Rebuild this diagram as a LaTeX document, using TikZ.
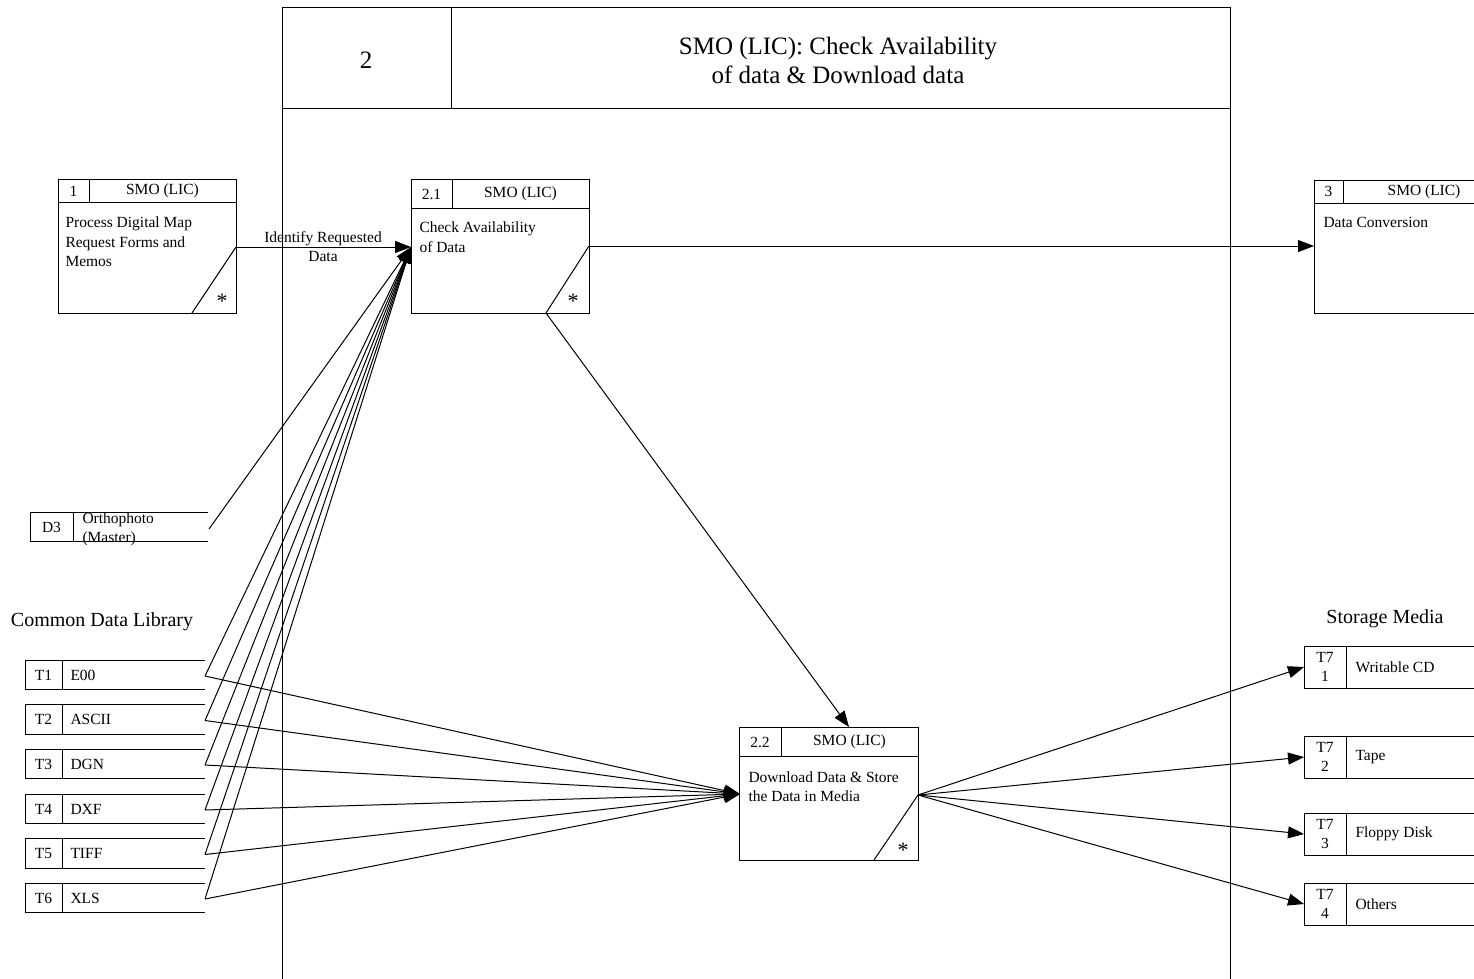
\documentclass[tikz,border=0pt]{standalone}
\usepackage{fontspec}
\setmainfont{Liberation Serif}
\usetikzlibrary{arrows.meta}
\begin{document}
\begin{tikzpicture}[x=1pt,y=-1pt,line width=1pt,
  txt/.style={inner sep=0pt,font=\fontsize{15.5}{19.5}\selectfont},
  body/.style={txt,anchor=north west,align=left},
  big/.style={inner sep=0pt,font=\fontsize{25}{29}\selectfont},
  lib/.style={inner sep=0pt,font=\fontsize{20}{24}\selectfont},
  star/.style={inner sep=0pt,font=\fontsize{22}{22}\selectfont},
  boxshape/.style={draw,anchor=north west,inner sep=0pt,minimum width=#1},
  arr/.style={-{Triangle[length=16pt,width=12pt]}}]
\useasboundingbox (0,0) rectangle (1474,979);
\fill[white] (0,0) rectangle (1474,979);

% ---------- outer frame ----------
\draw (282,979) -- (282,8) -- (1230,8) -- (1230,979);
\draw (282,109) -- (1230,109);
\draw (451,8) -- (451,109);
\node[big] (fnum) at (366,60) {2};
\node[big,align=center] (ftitle) at (838,60) {SMO (LIC): Check Availability\\of data \& Download data};

% ---------- process 1 ----------
\node[boxshape=178pt,minimum height=134pt] (p1) at (58,179) {};
\draw (58,202) -- (236,202);
\draw (89,179) -- (89,202);
\node[txt] (p1n) at (73.5,191) {1};
\node[txt] (p1h) at (162.5,191) {SMO (LIC)};
\node[body] (p1t) at (65,213.4) {\strut Process Digital Map\\Request Forms and\\Memos};
\draw (192,313) -- (236,247);
\coordinate (p1out) at (236,247);
\node[star] (p1s) at (222,301) {*};

% ---------- process 2.1 ----------
\node[boxshape=178pt,minimum height=134pt] (p21) at (411,179) {};
\draw (411,208) -- (589,208);
\draw (452,179) -- (452,208);
\node[txt] (p21n) at (431.5,194) {2.1};
\node[txt] (p21h) at (520.5,194) {SMO (LIC)};
\node[body] (p21t) at (419,218.4) {\strut Check Availability\\of Data};
\draw (546,313) -- (589,246);
\coordinate (p21in) at (411,247);
\coordinate (p21out) at (589,246);
\coordinate (p21dn) at (546,313);
\node[star] (p21s) at (573,301.5) {*};

% ---------- process 3 (cut off) ----------
\draw (1474,180) -- (1314,180) -- (1314,313) -- (1474,313);
\draw (1314,203) -- (1474,203);
\draw (1343,180) -- (1343,203);
\node[txt] (p3n) at (1328.5,191.5) {3};
\node[txt] (p3h) at (1424,191.5) {SMO (LIC)};
\node[body] (p3t) at (1323,213.4) {\strut Data Conversion};
\coordinate (p3in) at (1314,246);

% ---------- process 2.2 ----------
\node[boxshape=179pt,minimum height=133pt] (p22) at (739,727) {};
\draw (739,756) -- (918,756);
\draw (781,727) -- (781,756);
\node[txt] (p22n) at (760,742) {2.2};
\node[txt] (p22h) at (849.5,742) {SMO (LIC)};
\node[body] (p22t) at (748,768.3) {\strut Download Data \& Store\\the Data in Media};
\draw (874,860) -- (918,795);
\coordinate (p22in) at (740,794);
\coordinate (p22top) at (849,727);
\coordinate (p22out) at (918,795);
\node[star] (p22s) at (903,850) {*};

% ---------- D3 data store ----------
\draw (208,512) -- (30,512) -- (30,541) -- (208,541);
\draw (73,512) -- (73,541);
\node[txt] (d3n) at (51.5,527) {D3};
\node[body] (d3t) at (82,509) {\strut Orthophoto\\(Master)};
\coordinate (d3out) at (209,529);

% ---------- Common Data Library ----------
\node[lib] (cdl) at (102,622) {Common Data Library};
\foreach \i/\top/\lab in {1/660/E00,2/704.5/ASCII,3/749/DGN,4/794/DXF,5/838.5/TIFF,6/883/XLS}{
  \draw (205,\top) -- (25,\top) -- (25,\top+29.5) -- (205,\top+29.5);
  \draw (62,\top) -- (62,\top+29.5);
  \node[txt] (t\i n) at (43.5,\top+15) {T\i};
  \node[txt,anchor=west] (t\i t) at (70,\top+15) {\lab};
  \coordinate (t\i out) at (205,\top+16);
}

% ---------- Storage Media ----------
\node[lib] (stm) at (1385,619) {Storage Media};
\foreach \i/\top/\lab in {1/646/Writable CD,2/736/Tape,3/813/Floppy Disk,4/883/Others}{
  \draw (1474,\top) -- (1304,\top) -- (1304,\top+42) -- (1474,\top+42);
  \draw (1346,\top) -- (1346,\top+42);
  \node[txt,align=center] (m\i n) at (1325,\top+21) {T7\\\i};
  \node[txt,anchor=west] (m\i t) at (1355,\top+21) {\lab};
  \coordinate (m\i in) at (1304,\top+21);
}

% ---------- connectors ----------
\draw[arr] (p1out) -- (p21in);
\node[txt,align=center] (lid) at (323,246.5) {Identify Requested\\Data};
\draw[arr] (d3out) -- (p21in);
\foreach \i in {1,...,6}{
  \draw[arr] (t\i out) -- (p21in);
  \draw[arr] (t\i out) -- (p22in);
}
\draw[arr] (p21out) -- (p3in);
\draw[arr] (p21dn) -- (p22top);
\foreach \i in {1,...,4}{
  \draw[arr] (p22out) -- (m\i in);
}
\end{tikzpicture}
\end{document}
